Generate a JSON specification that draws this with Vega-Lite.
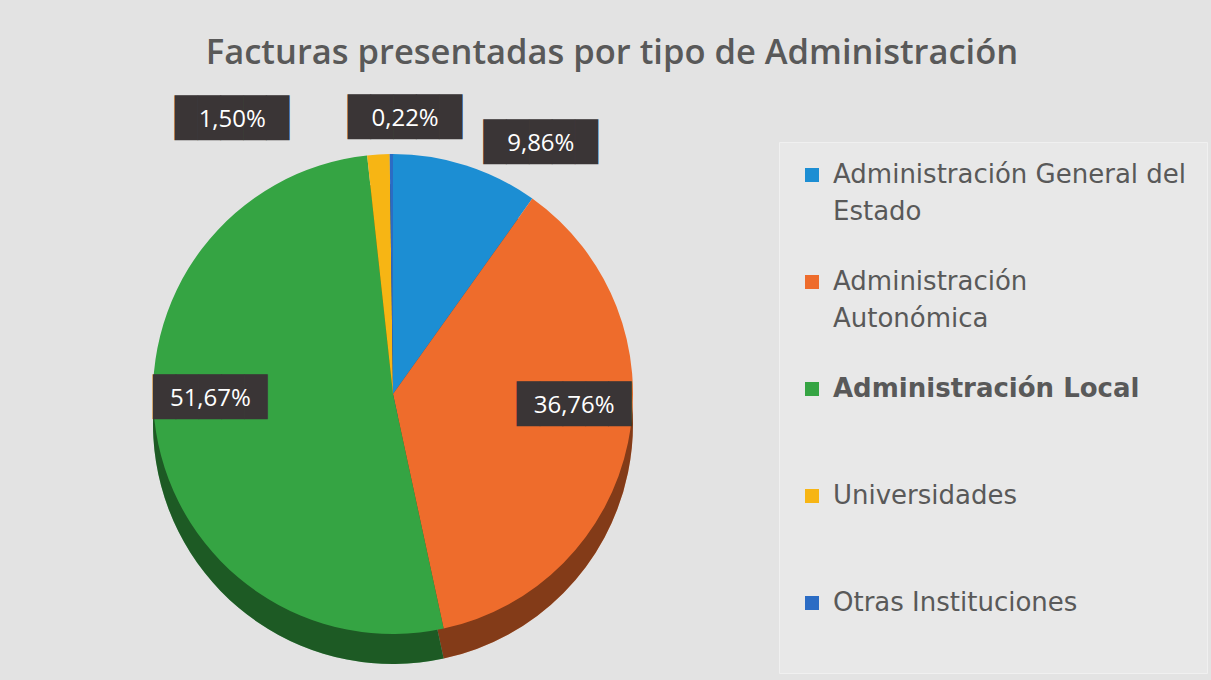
{
  "$schema": "https://vega.github.io/schema/vega-lite/v6.json",
  "width": 786,
  "height": 566,
  "padding": {"top": 35, "left": 0, "right": 6, "bottom": 5},
  "background": "#e3e3e3",
  "title": {
    "text": "Facturas presentadas por tipo de Administración",
    "font": "Open Sans",
    "fontSize": 34.5,
    "fontWeight": 600,
    "color": "#595959",
    "anchor": "middle",
    "frame": "group",
    "dx": 219,
    "offset": 29
  },
  "data": {
    "values": [
      {"tipo": "Administración General del Estado", "share": 9.86, "orden": 1, "etiqueta": "9,86%"},
      {"tipo": "Administración Autonómica", "share": 36.76, "orden": 2, "etiqueta": "36,76%"},
      {"tipo": "Administración Local", "share": 51.67, "orden": 3, "etiqueta": "51,67%"},
      {"tipo": "Universidades", "share": 1.50, "orden": 4, "etiqueta": "1,50%"},
      {"tipo": "Otras Instituciones", "share": 0.22, "orden": 5, "etiqueta": "0,22%"}
    ]
  },
  "layer": [
    {
      "mark": {"type": "arc", "outerRadius": 240, "yOffset": 30},
      "encoding": {
        "theta": {"field": "share", "type": "quantitative", "stack": true},
        "order": {"field": "orden", "type": "quantitative"},
        "color": {
          "field": "tipo",
          "type": "nominal",
          "scale": {
            "domain": ["Administración General del Estado", "Administración Autonómica", "Administración Local", "Universidades", "Otras Instituciones"],
            "range": ["#1c8ed3", "#ee6c2c", "#35a443", "#f7b514", "#2b6cc4"]
          },
          "legend": {
            "orient": "none",
            "legendX": 779,
            "legendY": 31,
            "title": null,
            "direction": "vertical",
            "symbolType": "square",
            "symbolSize": 196,
            "symbolStrokeWidth": 0,
            "labelFont": "DejaVu Sans",
            "labelFontSize": 26,
            "labelColor": "#595959",
            "labelFontWeight": {"expr": "datum.label == 'Administración Local' ? 'bold' : 'normal'"},
            "labelLimit": 420,
            "labelOffset": 8,
            "labelBaseline": "middle",
            "labelExpr": "datum.label == 'Administración General del Estado' ? ['Administración General del', 'Estado'] : datum.label == 'Administración Autonómica' ? ['Administración', 'Autonómica'] : [datum.label, '']",
            "rowPadding": 44,
            "padding": 20,
            "fillColor": "#e8e8e8",
            "strokeColor": "#f0f0f0"
          }
        }
      }
    },
    {
      "mark": {"type": "arc", "outerRadius": 240, "yOffset": 30, "color": "#000000", "opacity": 0.45},
      "encoding": {
        "theta": {"field": "share", "type": "quantitative", "stack": true},
        "order": {"field": "orden", "type": "quantitative"}
      }
    },
    {
      "mark": {"type": "arc", "outerRadius": 240},
      "encoding": {
        "theta": {"field": "share", "type": "quantitative", "stack": true},
        "order": {"field": "orden", "type": "quantitative"},
        "color": {"field": "tipo", "type": "nominal"}
      }
    },
    {
      "transform": [
        {"stack": "share", "sort": [{"field": "orden", "order": "ascending"}], "groupby": [], "as": ["s0", "s1"]},
        {"calculate": "(datum.s0 + datum.s1) / 2", "as": "mid"}
      ],
      "layer": [
        {
          "transform": [{"filter": "datum.share > 20"}],
          "mark": {"type": "text", "radius": 185, "dy": -25, "font": "DejaVu Sans Mono", "fontSize": 38, "color": "#3a3536", "align": "center", "baseline": "middle"},
          "encoding": {
            "theta": {"field": "mid", "type": "quantitative"},
            "text": {"value": "█████"}
          }
        },
        {
          "transform": [{"filter": "datum.share > 20"}],
          "mark": {"type": "text", "radius": 185, "dy": -25, "font": "Open Sans", "fontSize": 24, "color": "#ffffff", "align": "center", "baseline": "middle"},
          "encoding": {
            "theta": {"field": "mid", "type": "quantitative"},
            "text": {"field": "etiqueta"}
          }
        },
        {
          "transform": [{"filter": "datum.orden == 1"}],
          "layer": [
            {
              "mark": {"type": "text", "radius": 275, "dx": 64, "dy": 12, "font": "DejaVu Sans Mono", "fontSize": 38, "color": "#3a3536", "align": "center", "baseline": "middle"},
              "encoding": {"theta": {"field": "mid", "type": "quantitative"}, "text": {"value": "█████"}}
            },
            {
              "mark": {"type": "text", "radius": 275, "dx": 64, "dy": 12, "font": "Open Sans", "fontSize": 24, "color": "#ffffff", "align": "center", "baseline": "middle"},
              "encoding": {"theta": {"field": "mid", "type": "quantitative"}, "text": {"field": "etiqueta"}}
            }
          ]
        },
        {
          "transform": [{"filter": "datum.orden == 4"}],
          "layer": [
            {
              "mark": {"type": "text", "radius": 275, "dx": -144, "font": "DejaVu Sans Mono", "fontSize": 38, "color": "#3a3536", "align": "center", "baseline": "middle"},
              "encoding": {"theta": {"field": "mid", "type": "quantitative"}, "text": {"value": "█████"}}
            },
            {
              "mark": {"type": "text", "radius": 275, "dx": -144, "font": "Open Sans", "fontSize": 24, "color": "#ffffff", "align": "center", "baseline": "middle"},
              "encoding": {"theta": {"field": "mid", "type": "quantitative"}, "text": {"field": "etiqueta"}}
            }
          ]
        },
        {
          "transform": [{"filter": "datum.orden == 5"}],
          "layer": [
            {
              "mark": {"type": "text", "radius": 275, "dx": 14, "font": "DejaVu Sans Mono", "fontSize": 38, "color": "#3a3536", "align": "center", "baseline": "middle"},
              "encoding": {"theta": {"field": "mid", "type": "quantitative"}, "text": {"value": "█████"}}
            },
            {
              "mark": {"type": "text", "radius": 275, "dx": 14, "font": "Open Sans", "fontSize": 24, "color": "#ffffff", "align": "center", "baseline": "middle"},
              "encoding": {"theta": {"field": "mid", "type": "quantitative"}, "text": {"field": "etiqueta"}}
            }
          ]
        }
      ]
    }
  ],
  "config": {
    "view": {"stroke": null},
    "style": {"guide-label": {"lineHeight": 37}}
  }
}
